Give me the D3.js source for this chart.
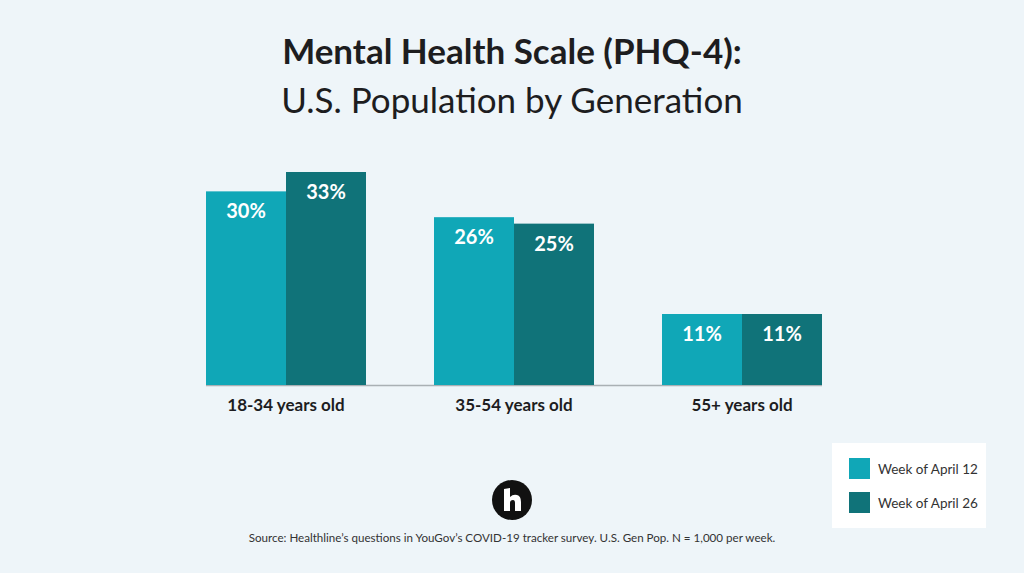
<!DOCTYPE html>
<html>
<head>
<meta charset="utf-8">
<script src="https://cdn.jsdelivr.net/npm/d3@7"></script>
<style>
  body{margin:0;background:#eef5f9;}
  svg{display:block;font-family:Lato,"Open Sans",sans-serif;}
</style>
</head>
<body>
<div id="chart"></div>
<script>
// chart data
const groups=["18-34 years old","35-54 years old","55+ years old"];
const series=["Week of April 12","Week of April 26"];
const april12=[30,26,11];
const april26=[33,25,11];
const colors=["#10a7b7","#107379"];

const width=1024,height=573;
const svg=d3.select("#chart").append("svg")
    .attr("width",width).attr("height",height);
svg.append("rect").attr("width",width).attr("height",height).attr("fill","#eef5f9");

// titles
svg.append("text").attr("x",512).attr("y",64).attr("text-anchor","middle")
    .attr("font-size",35).attr("font-weight",700).attr("fill","#1d1d1f")
    .text("Mental Health Scale (PHQ-4):");
svg.append("text").attr("x",512).attr("y",113).attr("text-anchor","middle")
    .attr("font-size",35).attr("font-weight",400).attr("fill","#1d1d1f")
    .text("U.S. Population by Generation");

const x=d3.scaleBand().domain(groups).range([206,822]).paddingInner(68/228).paddingOuter(0);
const x1=d3.scaleBand().domain(series).range([0,x.bandwidth()]);
const y=d3.scaleLinear().domain([0,33]).range([385,172]);

const rows=groups.map((g,i)=>({group:g,values:[april12[i],april26[i]]}));

// baseline
svg.append("line")
    .attr("x1",x(groups[0])).attr("x2",x(groups[2])+x.bandwidth())
    .attr("y1",y(0)+0.5).attr("y2",y(0)+0.5)
    .attr("stroke","#a9b0b4").attr("stroke-width",1.5);

const g=svg.selectAll("g.grp").data(rows).enter().append("g")
    .attr("class","grp").attr("transform",d=>"translate("+x(d.group)+",0)");
g.selectAll("rect").data(d=>d.values.map((v,j)=>({v:v,s:series[j],j:j}))).enter()
    .append("rect")
    .attr("x",d=>x1(d.s)).attr("y",d=>y(d.v))
    .attr("width",x1.bandwidth()).attr("height",d=>y(0)-y(d.v))
    .attr("fill",d=>colors[d.j]);
g.selectAll("text.val").data(d=>d.values.map((v,j)=>({v:v,s:series[j]}))).enter()
    .append("text").attr("class","val")
    .attr("x",d=>x1(d.s)+x1.bandwidth()/2).attr("y",d=>y(d.v)+27)
    .attr("text-anchor","middle").attr("fill","#fff")
    .attr("font-size",20).attr("font-weight",700)
    .text(d=>d.v+"%");

// category axis
const xAxis=d3.axisBottom(x).tickSize(0).tickPadding(0);
const ax=svg.append("g").attr("transform","translate(0,"+y(0)+")").call(xAxis);
ax.select(".domain").remove();
ax.selectAll("text").attr("dy",0).attr("y",26)
    .attr("font-family","Lato,'Open Sans',sans-serif")
    .attr("font-size",17).attr("font-weight",700).attr("fill","#1d1d1f");

// legend
const leg=svg.append("g");
leg.append("rect").attr("x",832).attr("y",443).attr("width",154).attr("height",85).attr("fill","#fff");
series.forEach((s,i)=>{
  leg.append("rect").attr("x",849).attr("y",458+i*34).attr("width",21).attr("height",21).attr("fill",colors[i]);
  leg.append("text").attr("x",878).attr("y",474+i*34).attr("font-size",13.5).attr("fill","#333").text(s);
});

// logo
const logo=svg.append("g").attr("transform","translate(512,500)");
logo.append("circle").attr("r",20).attr("fill","#111");
logo.append("path").attr("fill","#fff")
    .attr("d","M-8,-11 L-2,-12 L-2,-3 Q1,-6 5,-5 Q9,-4 9,2 L9,11 L3,11 L3,3 Q3,0 1,0 Q-2,0 -2,3 L-2,11 L-8,11 Z");

// source
svg.append("text").attr("x",512).attr("y",542).attr("text-anchor","middle")
    .attr("font-size",11.6).attr("fill","#333")
    .text("Source: Healthline\u2019s questions in YouGov\u2019s COVID-19 tracker survey. U.S. Gen Pop. N = 1,000 per week.");
</script>
</body>
</html>
